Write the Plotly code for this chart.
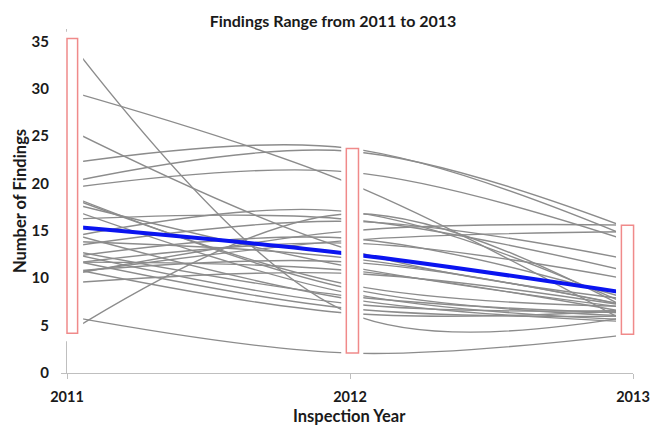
import plotly.graph_objects as go
import numpy as np

# ---- data ----
years = [2011, 2012, 2013]
year_labels = ["2011", "2012", "2013"]
findings_2011 = [35.3, 29.8, 25.8, 22.1, 20.1, 19.5, 18.8, 18.6, 18.0, 17.4,
                 16.2, 14.8, 14.3, 13.9, 13.3, 13.0, 12.7, 12.2, 12.0, 11.7,
                 11.5, 11.1, 10.7, 10.5, 10.3, 9.5, 6.0, 4.2]
findings_2012 = [6.3, 20.0, 13.0, 23.7, 23.4, 21.2, 8.9, 9.3, 11.2, 8.4,
                 16.2, 7.8, 17.0, 12.1, 16.0, 8.1, 7.3, 14.2, 6.8, 10.8,
                 13.7, 6.3, 11.7, 14.0, 15.0, 10.5, 2.1, 16.8]
findings_2013 = [6.0, 5.0, 7.7, 14.2, 15.1, 13.8, 6.0, 7.0, 6.8, 5.6,
                 10.6, 5.4, 7.0, 7.0, 11.9, 6.3, 6.6, 7.7, 6.0, 6.3,
                 9.8, 6.6, 7.0, 14.9, 15.6, 7.0, 4.1, 6.5]
y_tick_values = [0, 5, 10, 15, 20, 25, 30, 35]

title_text = "Findings Range from 2011 to 2013"
x_title = "Inspection Year"
y_title = "Number of Findings"

# ---- styling constants ----
W, H = 651, 427
ML, MR, MT, MB = 67, 18, 29, 54
X_RANGE = [2011, 2013]
Y_RANGE = [0, 36.3]
FONT = "Lato, 'Open Sans', sans-serif"
GRAY = "#8c8c8c"
BLUE = "#0a14f0"
RED = "#f08a8a"
AXIS = "#bfbfbf"
TXT = "#1a1a1a"


def px(x):
    return (x - X_RANGE[0]) / (X_RANGE[1] - X_RANGE[0])


def py(y):
    return (y - Y_RANGE[0]) / (Y_RANGE[1] - Y_RANGE[0])


fig = go.Figure()

series = list(zip(findings_2011, findings_2012, findings_2013))
for vals in series:
    fig.add_trace(go.Scatter(
        x=years, y=list(vals), mode="lines",
        line=dict(color=GRAY, width=1.4, shape="spline"),
        hoverinfo="skip", showlegend=False))

means = [float(np.mean(v)) for v in (findings_2011, findings_2012, findings_2013)]
fig.add_trace(go.Scatter(
    x=years, y=means, mode="lines",
    line=dict(color=BLUE, width=4, shape="spline"),
    hoverinfo="skip", showlegend=False))

# ---- range boxes (min..max per year), with white surround hiding line ends ----
columns = [findings_2011, findings_2012, findings_2013]
box_offsets = [(0.0, 0.0375), (-0.013, 0.030), (-0.041, 0.002)]
cover_x = [(-0.03, 0.057), (-0.031, 0.047), (-0.06, 0.05)]
shapes = []
for yr, col, (b0, b1), (c0, c1) in zip(years, columns, box_offsets, cover_x):
    lo, hi = min(col), max(col)
    shapes.append(dict(type="rect", xref="paper", yref="paper",
                       x0=px(yr + c0), x1=px(yr + c1),
                       y0=py(lo - 0.85), y1=py(min(hi + 0.8, 36.0)),
                       fillcolor="white", line=dict(width=0), layer="above"))
    shapes.append(dict(type="rect", xref="paper", yref="paper",
                       x0=px(yr + b0), x1=px(yr + b1),
                       y0=py(lo), y1=py(hi),
                       fillcolor="white", line=dict(color=RED, width=1.5),
                       layer="above"))

plot_h = H - MT - MB
fig.update_layout(
    width=W, height=H,
    margin=dict(l=ML, r=MR, t=MT, b=MB),
    paper_bgcolor="white", plot_bgcolor="white",
    font=dict(family=FONT, color=TXT),
    title=dict(text=title_text, x=333 / W, xref="container", xanchor="center",
               y=1 - 21 / H, yref="container", yanchor="middle",
               font=dict(family=FONT, size=16, color=TXT, weight="bold")),
    shapes=shapes,
    annotations=[dict(text=x_title, xref="paper", yref="paper",
                      x=(349 - ML) / (W - ML - MR), y=-(416 - (H - MB)) / plot_h,
                      xanchor="center", yanchor="middle", showarrow=False,
                      font=dict(family=FONT, size=16.5, color=TXT, weight="bold"))],
    showlegend=False,
)
fig.update_xaxes(
    range=X_RANGE, tickvals=years, ticktext=year_labels, automargin=False,
    showgrid=False, zeroline=False, showline=True, linecolor=AXIS, linewidth=1,
    ticks="outside", ticklen=5, tickcolor=AXIS, ticklabelstandoff=6,
    tickfont=dict(family=FONT, size=14.5, color=TXT, weight="bold"),
)
fig.update_yaxes(
    range=Y_RANGE, tickvals=y_tick_values, automargin=False,
    showgrid=False, zeroline=False, showline=True, linecolor=AXIS, linewidth=1,
    ticks="outside", ticklen=5, tickcolor=AXIS, ticklabelstandoff=9,
    tickfont=dict(family=FONT, size=15, color=TXT, weight="bold"),
    title=dict(text=y_title, standoff=0,
               font=dict(family=FONT, size=16.5, color=TXT, weight="bold")),
)

fig.write_html("out.html", config={"displayModeBar": False, "staticPlot": True},
               post_script="document.body.style.margin='0px';")
